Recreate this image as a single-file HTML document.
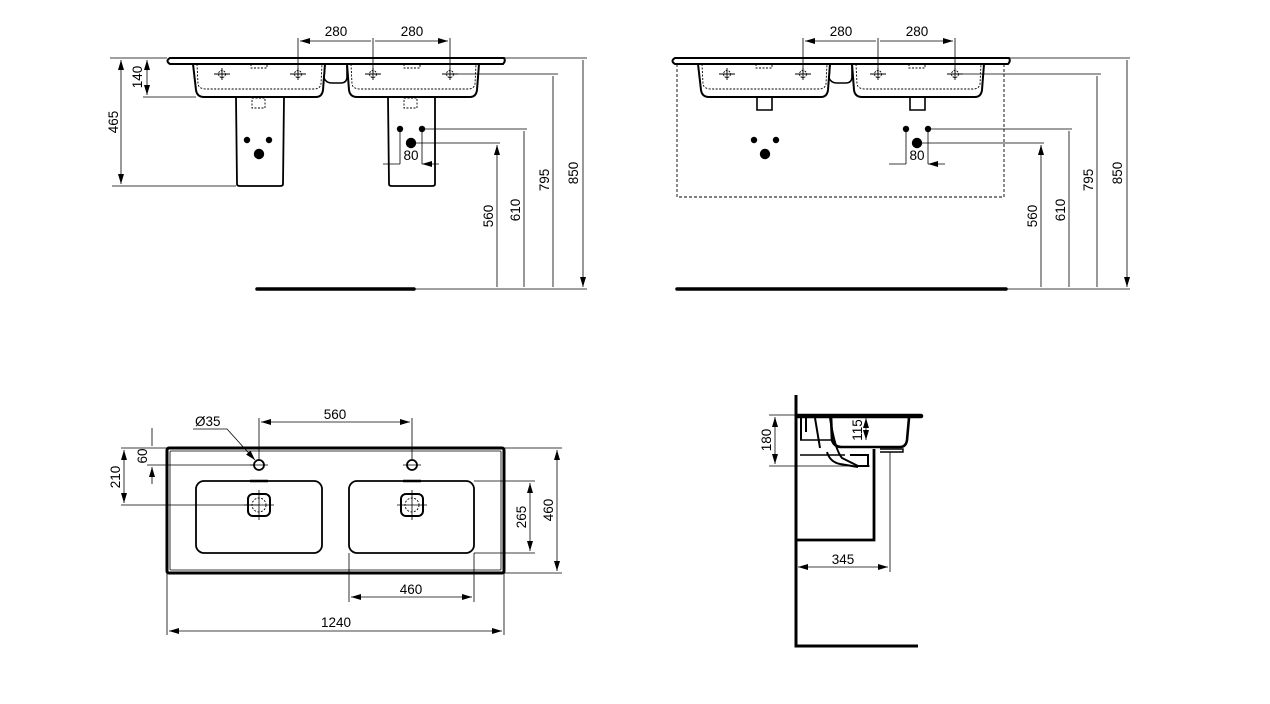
<!DOCTYPE html>
<html><head><meta charset="utf-8"><style>
html,body{margin:0;padding:0;background:#fff;}
svg{display:block;}
text{font-family:"Liberation Sans",Arial,sans-serif;font-size:13.5px;fill:#000;}
</style></head><body>
<svg width="1270" height="704" viewBox="0 0 1270 704" xmlns="http://www.w3.org/2000/svg">
<defs>
<marker id="a" viewBox="0 0 10 6" refX="10" refY="3" markerWidth="10" markerHeight="6" orient="auto-start-reverse" markerUnits="userSpaceOnUse">
<path d="M0,0 L10,3 L0,6 z" fill="#000"/></marker>
<g id="top">
  <path d="M170,58 H504 Q506,61 503,64 H170 Q165,61 170,58 Z" fill="none" stroke="#000" stroke-width="2"/>
  <path d="M193,64 L196,90 Q197,97 204,97 H316 Q322,97 323,90 L325,64" fill="none" stroke="#000" stroke-width="2"/>
  <path d="M347,64 L349,90 Q350,97 357,97 H470 Q476,97 477,90 L479,64" fill="none" stroke="#000" stroke-width="2"/>
  <path d="M325,64 L324,78 Q326,83 332,83 H341 Q346,83 347,78 L347,64" fill="none" stroke="#000" stroke-width="1.6"/>
  <path d="M197,64 L198,84 Q199,89 206,89 H314 Q320,89 321,84 L322,64" fill="none" stroke="#000" stroke-width="0.9" stroke-dasharray="2,1.5"/>
  <path d="M351,64 L352,84 Q353,89 360,89 H468 Q474,89 475,84 L476,64" fill="none" stroke="#000" stroke-width="0.9" stroke-dasharray="2,1.5"/>
  <path d="M251,64 V68 H267 V64 M404,64 V68 H420 V64" fill="none" stroke="#000" stroke-width="0.9" stroke-dasharray="2,1.5"/>
  <g fill="none" stroke="#000" stroke-width="0.9">
   <circle cx="222" cy="74" r="3.5" stroke-dasharray="2,1"/><path d="M214,74 H230 M222,68 V80"/>
   <circle cx="298" cy="74" r="3.5" stroke-dasharray="2,1"/><path d="M290,74 H306 M298,68 V80"/>
   <circle cx="373" cy="74" r="3.5" stroke-dasharray="2,1"/><path d="M365,74 H381 M373,68 V80"/>
   <circle cx="450" cy="74" r="3.5" stroke-dasharray="2,1"/><path d="M442,74 H458 M450,68 V80"/>
  </g>
</g>
</defs>
<g stroke="#000" fill="none">
<use href="#top"/>
<path d="M298,38 V74 M373,38 V74 M450,38 V74" stroke-width="0.8"/>
<path d="M300,41 H371 M375,41 H448" stroke-width="0.8" marker-start="url(#a)" marker-end="url(#a)"/>
<path d="M236,97 L237,184 Q237,186 240,186 H280 Q283,186 283,184 L284,97" stroke-width="1.8"/>
<path d="M388,97 L389,184 Q389,186 392,186 H432 Q435,186 435,184 L435,97" stroke-width="1.8"/>
<path d="M252,98 H265 V108 H252 Z M404,98 H417 V108 H404 Z" stroke-width="0.9" stroke-dasharray="2,1.5"/>
<path d="M504,58 H587 M110,58 H167 M143,97 H196 M112,186 H236 M458,74 H558 M422,129 H527 M411,143 H500" stroke-width="0.8"/>
<path d="M147,60 V95" stroke-width="0.8" marker-start="url(#a)" marker-end="url(#a)"/>
<path d="M121,60 V184" stroke-width="0.8" marker-start="url(#a)" marker-end="url(#a)"/>
<path d="M497,145 V287 M524,131 V287 M553,76 V287 M583,60 V287" stroke-width="0.8" marker-start="url(#a)" marker-end="url(#a)"/>
<path d="M257,289 H414" stroke-width="3.5" stroke-linecap="round"/>
<path d="M414,289 H587" stroke-width="0.8"/>
<path d="M400,129 V164 M422,129 V164" stroke-width="0.8"/>
<path d="M383,164 H400 M439,164 H422" stroke-width="0.8" marker-end="url(#a)"/>

<g transform="translate(505,0)"><use href="#top"/></g>
<path d="M803,38 V74 M878,38 V74 M955,38 V74" stroke-width="0.8"/>
<path d="M805,41 H876 M880,41 H953" stroke-width="0.8" marker-start="url(#a)" marker-end="url(#a)"/>
<path d="M677,64 V197 H1004 V64" stroke-width="0.9" stroke-dasharray="3,2"/>
<path d="M757,97 V110 H772 V97 M910,97 V110 H925 V97" stroke-width="1.6"/>
<path d="M1009,58 H1130 M963,74 H1101 M928,129 H1072 M917,143 H1044" stroke-width="0.8"/>
<path d="M1041,145 V287 M1069,131 V287 M1097,76 V287 M1127,60 V287" stroke-width="0.8" marker-start="url(#a)" marker-end="url(#a)"/>
<path d="M677,289 H1006" stroke-width="3.5" stroke-linecap="round"/>
<path d="M1006,289 H1130" stroke-width="0.8"/>
<path d="M906,129 V164 M928,129 V164" stroke-width="0.8"/>
<path d="M889,164 H906 M945,164 H928" stroke-width="0.8" marker-end="url(#a)"/>

<rect x="167" y="448" width="337" height="125" rx="2" stroke-width="3"/>
<rect x="170" y="451" width="331" height="119" rx="1" stroke-width="0.8"/>
<rect x="196" y="481" width="126" height="72" rx="8" stroke-width="1.8"/>
<rect x="349" y="481" width="125" height="72" rx="8" stroke-width="1.8"/>
<path d="M250,481 H268 M403,481 H421" stroke-width="2.5"/>
<rect x="248" y="494" width="22" height="22" rx="5" stroke-width="2"/>
<rect x="401" y="494" width="22" height="22" rx="5" stroke-width="2"/>
<circle cx="259" cy="505" r="7" stroke-width="0.9" stroke-dasharray="2,1.5"/>
<circle cx="412" cy="505" r="7" stroke-width="0.9" stroke-dasharray="2,1.5"/>
<path d="M259,490 V520 M244,505 H274 M412,490 V520 M397,505 H427" stroke-width="0.8"/>
<circle cx="259" cy="465" r="5" stroke-width="1.8"/>
<circle cx="412" cy="465" r="5" stroke-width="1.8"/>
<path d="M250,465 H268 M403,465 H421" stroke-width="0.8"/>
<path d="M259,418 V460 M412,418 V460" stroke-width="0.8"/>
<path d="M261,422 H410" stroke-width="0.8" marker-start="url(#a)" marker-end="url(#a)"/>
<path d="M193,429 H227 L255,460" stroke-width="0.8" marker-end="url(#a)"/>
<path d="M121,448 H167 M147,465 H255 M121,505 H259 M474,481 H535 M474,553 H535 M504,573 H562 M504,448 H562" stroke-width="0.8"/>
<path d="M152,428 V446 M152,484 V467" stroke-width="0.8" marker-end="url(#a)"/>
<path d="M124,450 V503" stroke-width="0.8" marker-start="url(#a)" marker-end="url(#a)"/>
<path d="M530,483 V551" stroke-width="0.8" marker-start="url(#a)" marker-end="url(#a)"/>
<path d="M557,450 V571" stroke-width="0.8" marker-start="url(#a)" marker-end="url(#a)"/>
<path d="M349,553 V602 M474,553 V602 M167,573 V635 M504,573 V635" stroke-width="0.8"/>
<path d="M351,597 H472" stroke-width="0.8" marker-start="url(#a)" marker-end="url(#a)"/>
<path d="M169,631 H502" stroke-width="0.8" marker-start="url(#a)" marker-end="url(#a)"/>

<path d="M796,395 V646 H918" stroke-width="3"/>
<path d="M797,416 H921" stroke-width="4.5" stroke-linecap="round"/>
<path d="M831,416 L832,440 Q834,447 842,447 H900 Q906,447 907,440 L909,418" stroke-width="2.6"/>
<path d="M815,418 L820,448 M830,418 Q835,450 842,458 L858,466 H868 V455 H850" stroke-width="2"/>
<path d="M801,418 V440 M806,418 V432" stroke-width="2"/>
<path d="M800,440 H832 M800,455 H845" stroke-width="1.5"/>
<path d="M827,452 Q830,462 840,464 L858,467" stroke-width="2"/>
<path d="M874,449 V540 H797" stroke-width="2.8"/>
<path d="M880,449 H903 V452 H880" stroke-width="1.4"/>
<path d="M890,452 V572" stroke-width="0.8"/>
<path d="M798,567 H888" stroke-width="0.8" marker-start="url(#a)" marker-end="url(#a)"/>
<path d="M769,415 H797 M769,466 H870" stroke-width="0.8"/>
<path d="M775,417 V464" stroke-width="0.8" marker-start="url(#a)" marker-end="url(#a)"/>
<path d="M866,418 V440" stroke-width="0.8" marker-start="url(#a)" marker-end="url(#a)"/>
</g>
<g fill="#000">
<circle cx="247" cy="140" r="3.2"/><circle cx="269" cy="140" r="3.2"/><circle cx="259" cy="154" r="5.2"/>
<circle cx="400" cy="129" r="3.2"/><circle cx="422" cy="129" r="3.2"/><circle cx="411" cy="143" r="5.2"/>
<circle cx="754" cy="140" r="3.2"/><circle cx="776" cy="140" r="3.2"/><circle cx="765" cy="154" r="5.2"/>
<circle cx="906" cy="129" r="3.2"/><circle cx="928" cy="129" r="3.2"/><circle cx="917" cy="143" r="5.2"/>
</g>
<text x="336" y="36" text-anchor="middle">280</text>
<text x="412" y="36" text-anchor="middle">280</text>
<text x="411" y="160" text-anchor="middle">80</text>
<text x="841" y="36" text-anchor="middle">280</text>
<text x="917" y="36" text-anchor="middle">280</text>
<text x="917" y="160" text-anchor="middle">80</text>
<text transform="translate(142,77) rotate(-90)" text-anchor="middle">140</text>
<text transform="translate(118,122) rotate(-90)" text-anchor="middle">465</text>
<text transform="translate(493,216) rotate(-90)" text-anchor="middle">560</text>
<text transform="translate(520,210) rotate(-90)" text-anchor="middle">610</text>
<text transform="translate(549,180) rotate(-90)" text-anchor="middle">795</text>
<text transform="translate(578,173) rotate(-90)" text-anchor="middle">850</text>
<text transform="translate(1037,216) rotate(-90)" text-anchor="middle">560</text>
<text transform="translate(1065,210) rotate(-90)" text-anchor="middle">610</text>
<text transform="translate(1093,180) rotate(-90)" text-anchor="middle">795</text>
<text transform="translate(1122,173) rotate(-90)" text-anchor="middle">850</text>
<text x="195" y="426">Ø35</text>
<text x="335" y="419" text-anchor="middle">560</text>
<text transform="translate(147,456) rotate(-90)" text-anchor="middle">60</text>
<text transform="translate(120,477) rotate(-90)" text-anchor="middle">210</text>
<text transform="translate(526,517) rotate(-90)" text-anchor="middle">265</text>
<text transform="translate(553,510) rotate(-90)" text-anchor="middle">460</text>
<text x="411" y="594" text-anchor="middle">460</text>
<text x="336" y="627" text-anchor="middle">1240</text>
<text transform="translate(771,440) rotate(-90)" text-anchor="middle">180</text>
<text transform="translate(862,430) rotate(-90)" text-anchor="middle">115</text>
<text x="843" y="564" text-anchor="middle">345</text>
</svg>
</body></html>
